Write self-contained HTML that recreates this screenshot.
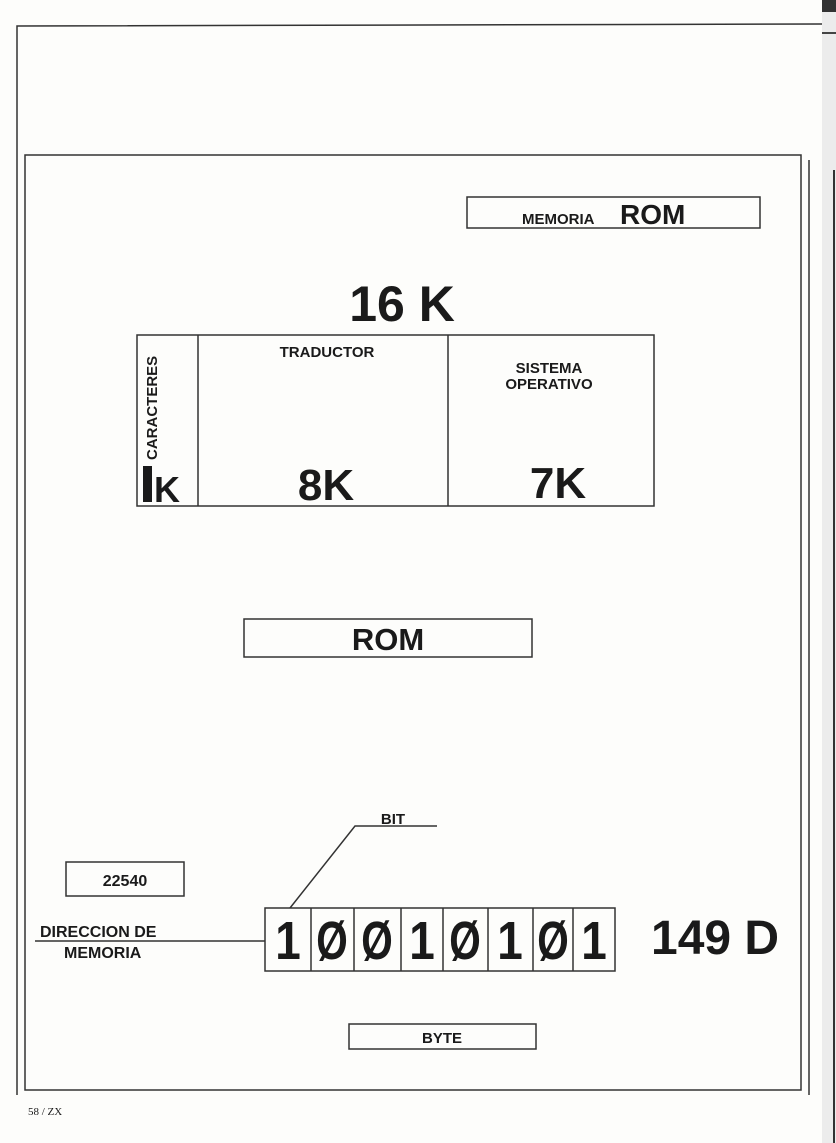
<!DOCTYPE html>
<html><head><meta charset="utf-8"><style>
html,body{margin:0;padding:0;background:#fff}
svg{display:block}
text{font-family:"Liberation Sans",sans-serif;font-weight:bold;fill:#1a1a1a}
</style></head><body>
<svg width="836" height="1143" viewBox="0 0 836 1143" xmlns="http://www.w3.org/2000/svg">
<rect width="836" height="1143" fill="#fdfdfb"/>
<rect x="822" y="0" width="14" height="1143" fill="#ececec"/>
<rect x="822" y="0" width="14" height="12" fill="#333"/>
<line x1="822" y1="33" x2="836" y2="33" stroke="#444" stroke-width="2"/>
<line x1="834" y1="170" x2="834" y2="1143" stroke="#333" stroke-width="2"/>
<g stroke="#333" fill="none" stroke-width="1.5">
<polyline points="17,1095 17,26 822,24"/>
<rect x="25" y="155" width="776" height="935"/>
<line x1="809" y1="160" x2="809" y2="1095"/>
<rect x="467" y="197" width="293" height="31"/>
<rect x="137" y="335" width="517" height="171"/>
<line x1="198" y1="335" x2="198" y2="506"/>
<line x1="448" y1="335" x2="448" y2="506"/>
<rect x="244" y="619" width="288" height="38"/>
<rect x="66" y="862" width="118" height="34"/>
<rect x="349" y="1024" width="187" height="25"/>
<polyline points="437,826 355,826 290,908"/>
<line x1="35" y1="941" x2="265" y2="941"/>
<rect x="265" y="908" width="350" height="63"/>
<line x1="311" y1="908" x2="311" y2="971"/>
<line x1="354" y1="908" x2="354" y2="971"/>
<line x1="401" y1="908" x2="401" y2="971"/>
<line x1="443" y1="908" x2="443" y2="971"/>
<line x1="488" y1="908" x2="488" y2="971"/>
<line x1="533" y1="908" x2="533" y2="971"/>
<line x1="573" y1="908" x2="573" y2="971"/>
</g>
<text x="522" y="224" font-size="15">MEMORIA</text>
<text x="620" y="224" font-size="28">ROM</text>
<text x="402" y="321" font-size="50" text-anchor="middle">16 K</text>
<text transform="translate(157,460) rotate(-90)" font-size="15">CARACTERES</text>
<rect x="143" y="466" width="9" height="36" fill="#1a1a1a"/>
<text x="154" y="502" font-size="36">K</text>
<text x="327" y="357" font-size="15" text-anchor="middle">TRADUCTOR</text>
<text x="326" y="500" font-size="44" text-anchor="middle">8K</text>
<text x="549" y="373" font-size="15" text-anchor="middle">SISTEMA</text>
<text x="549" y="389" font-size="15" text-anchor="middle">OPERATIVO</text>
<text x="558" y="498" font-size="44" text-anchor="middle">7K</text>
<text x="388" y="650" font-size="31" text-anchor="middle">ROM</text>
<text x="393" y="824" font-size="15" text-anchor="middle">BIT</text>
<text x="125" y="886" font-size="16" text-anchor="middle">22540</text>
<text x="40" y="937" font-size="16">DIRECCION DE</text>
<text x="64" y="958" font-size="16">MEMORIA</text>
<g font-size="54" text-anchor="middle">
<text x="288" y="959" transform="translate(288,0) scale(0.85,1) translate(-288,0)">1</text>
<text x="332" y="959" transform="translate(332,0) scale(0.75,1) translate(-332,0)">Ø</text>
<text x="377" y="959" transform="translate(377,0) scale(0.75,1) translate(-377,0)">Ø</text>
<text x="422" y="959" transform="translate(422,0) scale(0.85,1) translate(-422,0)">1</text>
<text x="465" y="959" transform="translate(465,0) scale(0.75,1) translate(-465,0)">Ø</text>
<text x="510" y="959" transform="translate(510,0) scale(0.85,1) translate(-510,0)">1</text>
<text x="553" y="959" transform="translate(553,0) scale(0.75,1) translate(-553,0)">Ø</text>
<text x="594" y="959" transform="translate(594,0) scale(0.85,1) translate(-594,0)">1</text>
</g>
<text x="651" y="954" font-size="48">149 D</text>
<text x="442" y="1043" font-size="15" text-anchor="middle">BYTE</text>
<text x="28" y="1115" font-size="11" style="font-family:'Liberation Serif',serif;font-weight:normal">58 / ZX</text>
</svg>
</body></html>
